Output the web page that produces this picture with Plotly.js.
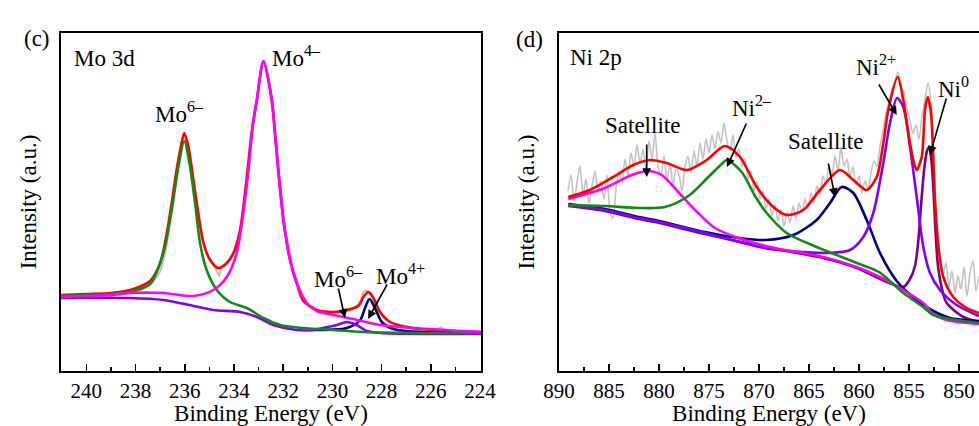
<!DOCTYPE html>
<html>
<head>
<meta charset="utf-8">
<script src="https://cdn.plot.ly/plotly-3.0.1.min.js"></script>
<style>
html,body{margin:0;padding:0;background:#fff;}
#chart{width:979px;height:426px;}
</style>
</head>
<body>
<div id="chart"></div>
<script>
// ---------- Panel (c): Mo 3d ----------
const moRawE = [241.0,240.8,240.6,240.4,240.2,240.0,239.8,239.6,239.4,239.2,239.0,238.8,238.6,238.4,238.2,238.0,237.8,237.6,237.4,237.2,237.0,236.8,236.6,236.4,236.2,236.05,235.9,235.7,235.5,235.3,235.1,234.9,234.7,234.6,234.5,234.3,234.1,233.9,233.7,233.5,233.3,233.1,232.9,232.8,232.65,232.5,232.3,232.1,231.9,231.7,231.5,231.3,231.1,230.9,230.7,230.5,230.3,230.1,229.9,229.7,229.5,229.3,229.1,228.9,228.7,228.55,228.4,228.2,228.0,227.8,227.6,227.4,227.2,227.0,226.8,226.6,226.4,226.2,226.0,225.8,225.6,225.4,225.2,225.0,224.8,224.6,224.4,224.2,224.0];
const moRawI = [73,75,72,74,76,73,75,77,74,76,75,77,76,79,78,80,81,84,87,92,100,118,150,188,220,234,228,200,165,135,117,109,100,95,104,107,115,124,150,190,236,268,300,308,296,272,235,185,140,115,95,80,70,65,62,60,59,57,59,58,62,60,64,68,80,79,74,64,56,51,48,46,44,45,43,42,41,42,40,41,44,40,39,40,39,38,39,38,38];

const moEnvE = [241.03,240.0,239.0,238.22,237.41,237.0,236.73,236.53,236.33,236.16,236.02,235.85,235.65,235.45,235.24,234.97,234.63,234.29,234.02,233.75,233.55,233.37,233.28,233.07,232.80,232.46,232.36,232.20,231.99,231.72,231.45,231.18,230.63,229.96,229.41,228.94,228.74,228.53,228.33,228.06,227.65,226.98,226.03,223.96];
const moEnvI = [76,77,78,81,90,108,138,168,201,224,238,224,191,158,128,111,103,108,118,141,178,218,238,271,310,271,245,201,151,111,88,70,61,59,61,65,74,79,73,59,49,44,41,39];

const moMo6E = [241.03,240.0,239.0,238.22,237.41,236.87,236.53,236.26,236.02,235.81,235.58,235.38,235.11,234.70,234.16,233.48,232.80,232.12,231.18,230.0,228.74,226.0,223.96];
const moMo6I = [75,76,77,79,87,118,161,204,230,208,168,128,101,81,69,63,53,46,43,41,39,38,38];

const moMo4E = [241.03,240.0,239.0,238.22,236.87,235.65,234.84,234.29,233.89,233.62,233.41,233.21,233.07,232.80,232.46,232.36,232.20,231.99,231.72,231.45,231.04,230.63,229.96,229.01,228.06,226.71,223.96];
const moMo4I = [74,75,76,78,78,75,81,94,118,158,201,251,271,310,271,245,201,151,111,88,68,60,56,51,46,43,39];

const moMo6bE = [241.03,238.22,236.87,235.81,234.84,233.75,233.07,232.40,231.45,230.77,230.37,229.82,229.41,229.01,228.60,228.06,226.0,223.96];
const moMo6bI = [73,73,71,66,61,59,54,46,41,41,43,46,49,46,40,38,37,37];

const moMo4bE = [231.0,230.5,229.41,228.87,228.66,228.49,228.27,227.99,227.52,226.43,223.96];
const moMo4bI = [41,41,43,51,64,72,63,49,42,39,38];

// ---------- Panel (d): Ni 2p ----------
const niRawE = [889.1,888.8,888.5,888.2,887.9,887.6,887.3,887.0,886.7,886.4,886.1,885.8,885.5,885.2,884.9,884.6,884.3,884.0,883.7,883.4,883.1,882.8,882.5,882.2,881.9,881.6,881.3,881.0,880.7,880.4,880.1,879.8,879.5,879.2,878.9,878.6,878.3,878.0,877.7,877.4,877.1,876.8,876.5,876.2,875.9,875.6,875.3,875.0,874.7,874.4,874.1,873.8,873.5,873.2,872.9,872.6,872.3,872.0,871.7,871.4,871.1,870.8,870.5,870.2,869.9,869.6,869.3,869.0,868.7,868.4,868.1,867.8,867.5,867.2,866.9,866.6,866.3,866.0,865.7,865.4,865.1,864.8,864.5,864.2,863.9,863.6,863.3,863.0,862.7,862.4,862.1,861.8,861.5,861.2,860.9,860.6,860.3,860.0,859.7,859.4,859.1,858.8,858.5,858.2,857.9,857.6,857.3,857.0,856.7,856.4,856.1,855.8,855.5,855.2,854.9,854.6,854.3,854.0,853.7,853.4,853.1,852.8,852.5,852.2,851.9,851.6,851.3,851.0,850.7,850.4,850.1,849.8,849.5,849.2,848.9,848.6,848.3,848.0];
const niRawI = [180,196,170,188,205,176,192,168,185,200,178,190,172,196,160,153,182,200,188,212,195,218,204,226,208,222,200,230,212,238,205,196,215,190,208,185,202,196,180,204,215,198,220,205,228,212,232,218,236,222,240,228,248,230,220,236,214,222,205,212,192,200,180,190,172,180,162,172,155,166,150,162,145,158,148,165,152,168,158,172,162,178,168,185,176,195,188,206,196,215,200,224,205,212,195,204,186,195,178,190,182,198,210,205,225,240,258,270,282,290,299,285,278,262,250,238,246,232,255,272,288,270,210,150,118,96,108,85,100,78,95,82,104,75,98,110,80,95];

const niEnvE = [889.07,886.9,884.57,882.57,880.9,879.23,877.23,875.23,873.4,871.9,870.23,868.57,867.23,865.57,863.9,861.9,860.57,859.23,858.23,857.57,857.07,856.13,855.57,855.07,854.57,854.23,853.73,853.4,853.13,852.8,852.57,852.4,852.07,851.57,850.57,849.23,848.0];
const niEnvI = [174,181,194,206,211,208,201,211,225,214,184,164,156,161,181,201,191,181,194,228,261,294,271,238,211,201,214,261,274,258,211,170,125,94,74,63,58];

const niNi2mE = [889.07,885.4,882.07,879.4,877.07,875.07,873.73,873.2,871.73,870.4,869.23,867.23,864.23,860.23,858.0,855.57,853.57,852.57,850.9,848.0];
const niNi2mI = [166,165,163,164,175,194,207,211,199,175,158,138,124,108,99,78,64,56,52,48];

const niSat1E = [889.07,885.4,882.73,881.07,879.73,878.07,876.4,874.4,872.07,868.9,863.57,860.23,857.9,855.57,853.57,852.57,851.23,848.0];
const niSat1I = [172,183,196,200,196,179,161,143,133,124,114,104,94,81,68,57,51,47];

const niSat2E = [889.07,885.4,882.0,880.4,875.4,872.0,869.3,866.57,864.23,862.9,861.73,860.57,859.23,857.9,856.23,854.23,852.57,850.9,848.0];
const niSat2I = [167,162,154,151,139,133,131,136,151,168,184,178,151,118,90,71,60,53,50];

const niNi2pE = [889.07,885.4,882.0,880.4,875.4,871.6,868.9,865.57,863.0,860.9,859.57,858.57,857.57,856.9,856.2,855.57,854.9,854.23,853.57,852.9,851.9,850.23,848.0];
const niNi2pI = [166,161,153,150,138,128,122,119,118,121,134,158,208,248,273,264,224,174,124,98,81,66,55];

const niNi0E = [889.07,885.4,882.0,880.4,875.4,868.9,863.57,860.23,857.23,855.57,854.9,854.4,854.07,853.8,853.5,853.2,852.97,852.75,852.55,852.35,852.1,851.6,851.23,849.57,848.0];
const niNi0I = [165,160,152,149,137,123,113,103,89,84,92,105,130,165,200,220,224,210,180,140,105,78,68,54,49];

// tick labels
const moTicks = [240,238,236,234,232,230,228,226,224];
const niTicks = [890,885,880,875,870,865,860,855,850];

const C = {gray:'#c3c3c3', red:'#ff0000', green:'#138a13', pink:'#ff00ff', violet:'#8000ff', navy:'#000080', purple:'#800080'};
const LW = 2.6;
function tr(x, y, color, xa, ya, w) {
  return {x: x, y: y, xaxis: xa, yaxis: ya, type: 'scatter', mode: 'lines',
          line: {color: color, width: w || LW, shape: 'spline', smoothing: 0.8}, hoverinfo: 'skip'};
}
const data = [
  tr(moRawE, moRawI, C.gray, 'x', 'y', 2.2),
  tr(moEnvE, moEnvI, C.red, 'x', 'y'),
  tr(moMo4bE, moMo4bI, C.navy, 'x', 'y'),
  tr(moMo6bE, moMo6bI, C.violet, 'x', 'y'),
  tr(moMo6E, moMo6I, C.green, 'x', 'y'),
  tr(moMo4E, moMo4I, C.pink, 'x', 'y'),
  tr(niRawE, niRawI, C.gray, 'x2', 'y2', 1.6),
  tr(niNi0E, niNi0I, C.purple, 'x2', 'y2'),
  tr(niSat2E, niSat2I, C.navy, 'x2', 'y2'),
  tr(niNi2pE, niNi2pI, C.violet, 'x2', 'y2'),
  tr(niSat1E, niSat1I, C.pink, 'x2', 'y2'),
  tr(niNi2mE, niNi2mI, C.green, 'x2', 'y2'),
  tr(niEnvE, niEnvI, C.red, 'x2', 'y2')
];

const FONT = 'Liberation Serif, DejaVu Serif, serif';
const yDom = [55/426, 393/426];
function xax(dom, range, ticks, minorStep) {
  return {domain: dom, range: range, tickmode: 'array', tickvals: ticks, ticktext: ticks.map(String),
    ticks: 'inside', ticklen: 7, tickwidth: 1.6, tickcolor: '#000',
    minor: {ticks: 'inside', ticklen: 4, tickwidth: 1.6, tickcolor: '#000', dtick: minorStep, tick0: ticks[0], showgrid: false},
    showline: true, linewidth: 2, linecolor: '#000', mirror: true, showgrid: false, zeroline: false,
    tickfont: {size: 21, family: FONT, color: '#000'},
    title: {text: 'Binding Energy (eV)', font: {size: 23, family: FONT, color: '#000'}, standoff: 9}};
}
function yax(anchor) {
  return {domain: yDom, range: [0, 338], anchor: anchor, showticklabels: false, ticks: '',
    showline: true, linewidth: 2, linecolor: '#000', mirror: true, showgrid: false, zeroline: false,
    title: {text: 'Intensity (a.u.)', font: {size: 23, family: FONT, color: '#000'}, standoff: 16}};
}
const xa1 = xax([61/979, 481/979], [241.03, 223.96], moTicks, 1);
const xa2 = xax([559/979, 1], [890, 848], niTicks, 2.5);
xa2.anchor = 'y2';
xa1.anchor = 'y';

function lab(xr, yr, x, y, t, anchor) {
  return {xref: xr, yref: yr, x: x, y: y, text: t, showarrow: false, xanchor: anchor || 'center', yanchor: 'middle',
          font: {size: 23, family: FONT, color: '#000'}};
}
function arr(xr, yr, x, y, ax, ay) {
  return {xref: xr, yref: yr, axref: xr, ayref: yr, x: x, y: y, ax: ax, ay: ay, text: '', showarrow: true,
          arrowhead: 2, arrowsize: 1.1, arrowwidth: 1.6, arrowcolor: '#000'};
}
const annotations = [
  {xref: 'paper', yref: 'paper', x: 22/979, y: 1 - 24/426, text: '(c)', showarrow: false, font: {size: 23, family: FONT, color: '#000'}},
  {xref: 'paper', yref: 'paper', x: 529/979, y: 1 - 25/426, text: '(d)', showarrow: false, font: {size: 23, family: FONT, color: '#000'}},
  lab('x', 'y', 240.58, 313, 'Mo 3d', 'left'),
  lab('x', 'y', 236.23, 259, 'Mo<sup>6–</sup>'),
  lab('x', 'y', 231.44, 315, 'Mo<sup>4–</sup>'),
  lab('x', 'y', 229.77, 94, 'Mo<sup>6–</sup>'),
  lab('x', 'y', 227.25, 97, 'Mo<sup>4+</sup>'),
  arr('x', 'y', 229.49, 53, 229.77, 84),
  arr('x', 'y', 228.55, 52, 227.74, 88),
  lab('x2', 'y2', 889.1, 314, 'Ni 2p', 'left'),
  lab('x2', 'y2', 881.7, 246, 'Satellite'),
  lab('x2', 'y2', 870.7, 265, 'Ni<sup>2–</sup>'),
  lab('x2', 'y2', 863.4, 230, 'Satellite'),
  lab('x2', 'y2', 858.3, 306, 'Ni<sup>2+</sup>'),
  lab('x2', 'y2', 850.6, 284, 'Ni<sup>0</sup>'),
  arr('x2', 'y2', 881.23, 194, 881.23, 228),
  arr('x2', 'y2', 873.2, 204, 871.2, 249),
  arr('x2', 'y2', 862.4, 174, 863.1, 209),
  arr('x2', 'y2', 856.23, 256, 858.1, 288),
  arr('x2', 'y2', 852.9, 216, 851.23, 274)
];

const layout = {
  width: 979, height: 426, margin: {l: 0, r: 0, t: 0, b: 0},
  paper_bgcolor: '#fff', plot_bgcolor: '#fff', showlegend: false,
  font: {family: FONT, size: 21, color: '#000'},
  xaxis: xa1, yaxis: yax('x'), xaxis2: xa2, yaxis2: yax('x2'),
  annotations: annotations
};
Plotly.newPlot('chart', data, layout, {staticPlot: true, displayModeBar: false});
</script>
</body>
</html>
